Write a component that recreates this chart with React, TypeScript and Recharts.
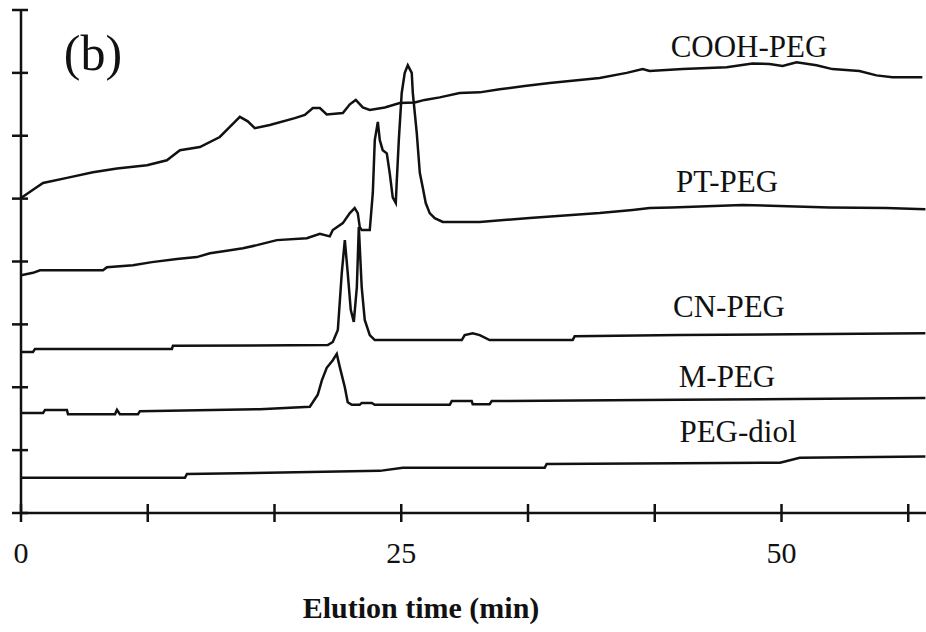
import { LineChart, Line, XAxis, YAxis } from 'recharts'

// elution time (min), detector signal (stacked, arbitrary units)
const COOH_PEG: [number, number][] = [
  [0, 5.01], [0.79, 5.14], [1.45, 5.25], [3.02, 5.33], [4.73, 5.42], [6.31, 5.48],
  [8.28, 5.53], [9.59, 5.61], [10.45, 5.77], [11.76, 5.82], [13.07, 5.98], [13.73, 6.14],
  [14.39, 6.3], [14.91, 6.23], [15.37, 6.12], [16.36, 6.17], [18.0, 6.28], [18.66, 6.33],
  [19.19, 6.44], [19.65, 6.44], [20.1, 6.34], [21.16, 6.36], [21.62, 6.5], [22.01, 6.57],
  [22.47, 6.45], [22.93, 6.41], [23.92, 6.45], [24.9, 6.52], [25.89, 6.53], [26.54, 6.57],
  [27.53, 6.61], [28.84, 6.68], [30.16, 6.69], [31.47, 6.74], [33.11, 6.79], [34.76, 6.84],
  [38.04, 6.92], [39.82, 7.0], [40.87, 7.06], [41.33, 7.03], [43.5, 7.06], [46.39, 7.09],
  [48.09, 7.15], [49.21, 7.14], [50.07, 7.11], [50.99, 7.17], [52.3, 7.12], [53.35, 7.06],
  [55.12, 7.03], [56.24, 6.96], [57.29, 6.93], [59.26, 6.93],
]

const PT_PEG: [number, number][] = [
  [0, 3.78], [0.79, 3.82], [1.25, 3.86], [5.39, 3.86], [5.65, 3.91], [7.36, 3.94],
  [8.61, 3.99], [10.25, 4.04], [11.56, 4.07], [12.42, 4.13], [13.53, 4.17], [14.59, 4.21],
  [15.51, 4.26], [16.82, 4.34], [18.79, 4.37], [19.65, 4.44], [20.3, 4.4], [20.5, 4.5],
  [21.16, 4.61], [21.62, 4.77], [21.94, 4.85], [22.14, 4.77], [22.27, 4.55], [22.4, 4.5],
  [22.93, 4.5], [23.13, 5.09], [23.26, 5.93], [23.46, 6.22], [23.59, 5.93], [23.78, 5.77],
  [24.05, 5.72], [24.24, 5.41], [24.44, 5.02], [24.64, 4.93], [24.7, 5.25], [24.84, 5.93],
  [25.03, 6.68], [25.23, 7.0], [25.43, 7.12], [25.69, 7.0], [25.76, 6.68], [26.02, 6.04],
  [26.22, 5.41], [26.41, 5.18], [26.61, 4.93], [26.87, 4.77], [27.2, 4.69], [27.73, 4.63],
  [30.16, 4.63], [33.44, 4.69], [38.04, 4.77], [40.21, 4.82], [41.33, 4.85], [42.77, 4.86],
  [47.44, 4.9], [53.15, 4.86], [56.9, 4.85], [59.46, 4.83],
]

const CN_PEG: [number, number][] = [
  [0, 2.56], [0.79, 2.56], [0.92, 2.61], [9.92, 2.61], [9.99, 2.66], [20.17, 2.67],
  [20.5, 2.72], [20.83, 2.91], [21.09, 3.82], [21.29, 4.34], [21.48, 3.82], [21.68, 3.23],
  [21.88, 3.04], [22.08, 3.59], [22.21, 4.55], [22.4, 3.59], [22.6, 3.07], [22.93, 2.83],
  [23.26, 2.75], [28.98, 2.75], [29.17, 2.83], [29.7, 2.86], [30.16, 2.83], [30.81, 2.75],
  [36.27, 2.75], [36.4, 2.81], [43.3, 2.83], [59.46, 2.86],
]

const M_PEG: [number, number][] = [
  [0, 1.59], [1.45, 1.59], [1.58, 1.64], [3.02, 1.64], [3.09, 1.57], [6.18, 1.57],
  [6.31, 1.64], [6.5, 1.57], [7.69, 1.57], [7.82, 1.62], [15.7, 1.65], [18.99, 1.69],
  [19.51, 1.88], [19.78, 2.11], [20.1, 2.31], [20.5, 2.43], [20.76, 2.53], [20.96, 2.32],
  [21.29, 2.0], [21.48, 1.76], [21.75, 1.72], [22.27, 1.72], [22.4, 1.75], [23.06, 1.75],
  [23.26, 1.72], [28.19, 1.72], [28.32, 1.78], [29.63, 1.78], [29.7, 1.73], [30.81, 1.73],
  [30.95, 1.78], [43.3, 1.8], [59.46, 1.83],
]

const PEG_DIOL: [number, number][] = [
  [0, 0.56], [10.78, 0.56], [10.91, 0.62], [23.59, 0.67], [25.1, 0.72], [34.43, 0.72],
  [34.56, 0.78], [43.3, 0.79], [49.9, 0.8], [51.2, 0.88], [59.46, 0.9],
]

const SERIES = [
  { name: 'COOH-PEG', points: COOH_PEG },
  { name: 'PT-PEG', points: PT_PEG },
  { name: 'CN-PEG', points: CN_PEG },
  { name: 'M-PEG', points: M_PEG },
  { name: 'PEG-diol', points: PEG_DIOL },
]

const X_TICKS = [0, 25 / 3, 50 / 3, 25, 100 / 3, 125 / 3, 50, 175 / 3]
const X_LABELS = [0, 25, 50]
const Y_TICKS = [0, 1, 2, 3, 4, 5, 6, 7, 8]

const FONT = '"Liberation Serif", "Times New Roman", serif'
const INK = '#111'

function XTick(props: any) {
  const { x, y, payload } = props
  const v = payload.value
  const lab = X_LABELS.find((l) => Math.abs(l - v) < 0.01)
  return (
    <g>
      <line x1={x} x2={x} y1={y - 9} y2={y + 9} stroke={INK} strokeWidth={2.5} />
      {lab !== undefined && (
        <text x={x} y={y + 50} textAnchor="middle" fontFamily={FONT} fontSize={30} fill={INK}>
          {lab}
        </text>
      )}
    </g>
  )
}

function YTick(props: any) {
  const { x, y } = props
  return <line x1={x - 9} x2={x + 7} y1={y} y2={y} stroke={INK} strokeWidth={2.5} />
}

export default function App() {
  return (
    <div style={{ position: 'absolute', left: 0, top: 0, width: 926, height: 632, background: '#fff' }}>
      <LineChart width={926} height={632} margin={{ top: 10, right: 0, bottom: 0, left: 0 }}>
        <XAxis
          type="number"
          dataKey="t"
          domain={[0, 59.5]}
          ticks={X_TICKS}
          interval={0}
          height={119}
          tickSize={0}
          tickMargin={0}
          tick={<XTick />}
          axisLine={{ stroke: INK, strokeWidth: 2.5 }}
          allowDataOverflow
        />
        <YAxis
          type="number"
          domain={[0, 8]}
          ticks={Y_TICKS}
          interval={0}
          width={21}
          tickSize={0}
          tickMargin={0}
          tick={<YTick />}
          axisLine={{ stroke: INK, strokeWidth: 2.5 }}
        />
        {SERIES.map((s) => (
          <Line
            key={s.name}
            data={s.points.map(([t, v]) => ({ t, v }))}
            dataKey="v"
            type="linear"
            stroke={INK}
            strokeWidth={2.5}
            dot={false}
            isAnimationActive={false}
          />
        ))}
        <text x={93} y={70} textAnchor="middle" fontFamily={FONT} fontSize={50} fill={INK}>(b)</text>
        <text x={749} y={57} textAnchor="middle" fontFamily={FONT} fontSize={31} fill={INK}>COOH-PEG</text>
        <text x={727} y={192} textAnchor="middle" fontFamily={FONT} fontSize={31} fill={INK}>PT-PEG</text>
        <text x={729} y={317} textAnchor="middle" fontFamily={FONT} fontSize={31} fill={INK}>CN-PEG</text>
        <text x={727} y={387} textAnchor="middle" fontFamily={FONT} fontSize={31} fill={INK}>M-PEG</text>
        <text x={738} y={442} textAnchor="middle" fontFamily={FONT} fontSize={31} fill={INK}>PEG-diol</text>
        <text x={421} y={618} textAnchor="middle" fontFamily={FONT} fontSize={30} fontWeight="bold" fill={INK}>
          Elution time (min)
        </text>
      </LineChart>
    </div>
  )
}
